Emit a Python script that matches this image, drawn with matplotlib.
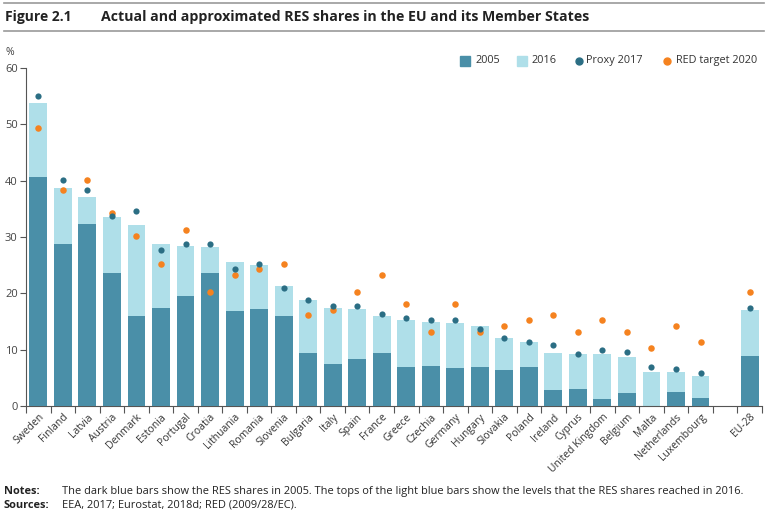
import numpy as np
import matplotlib.pyplot as plt
from matplotlib.lines import Line2D

plt.rcParams['font.family'] = ['Open Sans', 'DejaVu Sans']

# Dane
countries = ['Sweden', 'Finland', 'Latvia', 'Austria', 'Denmark', 'Estonia', 'Portugal',
             'Croatia', 'Lithuania', 'Romania', 'Slovenia', 'Bulgaria', 'Italy', 'Spain',
             'France', 'Greece', 'Czechia', 'Germany', 'Hungary', 'Slovakia', 'Poland',
             'Ireland', 'Cyprus', 'United Kingdom', 'Belgium', 'Malta', 'Netherlands',
             'Luxembourg', 'EU-28']
res_2005 = [40.6, 28.8, 32.3, 23.7, 16.0, 17.4, 19.5, 23.7, 16.8, 17.2, 16.0, 9.4, 7.5, 8.4,
            9.5, 7.0, 7.1, 6.7, 6.9, 6.4, 6.9, 2.8, 3.1, 1.3, 2.3, 0.1, 2.5, 1.4, 8.9]
res_2016 = [53.8, 38.7, 37.2, 33.5, 32.2, 28.8, 28.5, 28.3, 25.6, 25.0, 21.3, 18.8, 17.4, 17.3,
            16.0, 15.2, 14.9, 14.8, 14.2, 12.0, 11.3, 9.5, 9.3, 9.3, 8.7, 6.0, 6.0, 5.4, 17.0]
proxy_2017 = [55.0, 40.1, 38.3, 33.8, 34.6, 27.7, 28.7, 28.8, 24.4, 25.2, 21.0, 18.9, 17.8, 17.8,
              16.3, 15.7, 15.3, 15.3, 13.6, 12.0, 11.3, 10.8, 9.2, 10.0, 9.6, 7.0, 6.6, 5.9, 17.5]
target_2020 = [49.3, 38.3, 40.2, 34.3, 30.2, 25.3, 31.3, 20.3, 23.3, 24.3, 25.3, 16.2, 17.1, 20.3,
               23.3, 18.2, 13.2, 18.2, 13.2, 14.3, 15.2, 16.2, 13.2, 15.2, 13.2, 10.3, 14.2, 11.3, 20.3]

dark = '#4a8fa8'
light = '#afdfe9'
dot = '#2b6e84'
orange = '#f5821f'
grey = '#555555'
txt = '#222222'

x = np.append(np.arange(28), 29)

fig = plt.figure(figsize=(7.68, 5.16), dpi=100)
ax = fig.add_axes([0.034, 0.213, 0.958, 0.655])

ax.bar(x, res_2016, width=0.73, color=light, zorder=2)
ax.bar(x, res_2005, width=0.73, color=dark, zorder=3)
ax.scatter(x, proxy_2017, s=20, color=dot, zorder=5, linewidths=0)
ax.scatter(x, target_2020, s=22, color=orange, zorder=4, linewidths=0)

ax.set_xlim(-0.5, 29.5)
ax.set_ylim(0, 60)
ax.set_yticks(range(0, 61, 10))
ax.set_xticks(np.arange(-0.5, 30, 1))
ax.set_xticklabels([])
ax.set_xticks(x, minor=True)
ax.set_xticklabels(countries, minor=True, rotation=45, ha='right', rotation_mode='anchor',
                   fontsize=7.5, color='#333333')
ax.tick_params(axis='x', which='minor', length=0, pad=4)
ax.tick_params(axis='x', which='major', length=5, color=grey)
ax.tick_params(axis='y', length=4, color=grey, labelsize=8, labelcolor='#444444', pad=2)
for s in ['top', 'right']:
    ax.spines[s].set_visible(False)
ax.spines['left'].set_color(grey)
ax.spines['bottom'].set_color(grey)

# Legenda (recznie)
ly = 1 - 60.7 / 516
leg = [(465, 's', dark, 7.2, 475, '2005'),
       (522, 's', light, 7.2, 532, '2016'),
       (579, 'o', dot, 5, 586, 'Proxy 2017'),
       (667, 'o', orange, 5, 676, 'RED target 2020')]
for mx, mk, col, ms, tx, lab in leg:
    fig.add_artist(Line2D([mx / 768], [ly], marker=mk, color=col, markersize=ms, ls='None'))
    fig.text(tx / 768, ly, lab, fontsize=7.8, va='center', color='#333333')

# Tytul i linie
fig.add_artist(Line2D([0.005, 0.995], [0.995, 0.995], color='#999999', lw=1.2))
fig.add_artist(Line2D([0.005, 0.995], [0.94, 0.94], color='#999999', lw=1.2))
fig.text(0.007, 0.967, 'Figure 2.1', fontsize=10, fontweight='bold', va='center', color=txt)
fig.text(0.132, 0.967, 'Actual and approximated RES shares in the EU and its Member States',
         fontsize=10.2, fontweight='bold', va='center', color=txt)
fig.text(0.007, 0.898, '%', fontsize=7.5, color='#444444', va='center')

fig.text(0.005, 0.048, 'Notes:', fontsize=7.9, fontweight='bold', va='center', color=txt)
fig.text(0.081, 0.048, 'The dark blue bars show the RES shares in 2005. The tops of the light blue bars '
         'show the levels that the RES shares reached in 2016.', fontsize=7.9, va='center', color=txt)
fig.text(0.005, 0.021, 'Sources:', fontsize=7.9, fontweight='bold', va='center', color=txt)
fig.text(0.081, 0.021, 'EEA, 2017; Eurostat, 2018d; RED (2009/28/EC).', fontsize=7.9, va='center',
         color=txt)

plt.savefig('out.png', dpi=100)
